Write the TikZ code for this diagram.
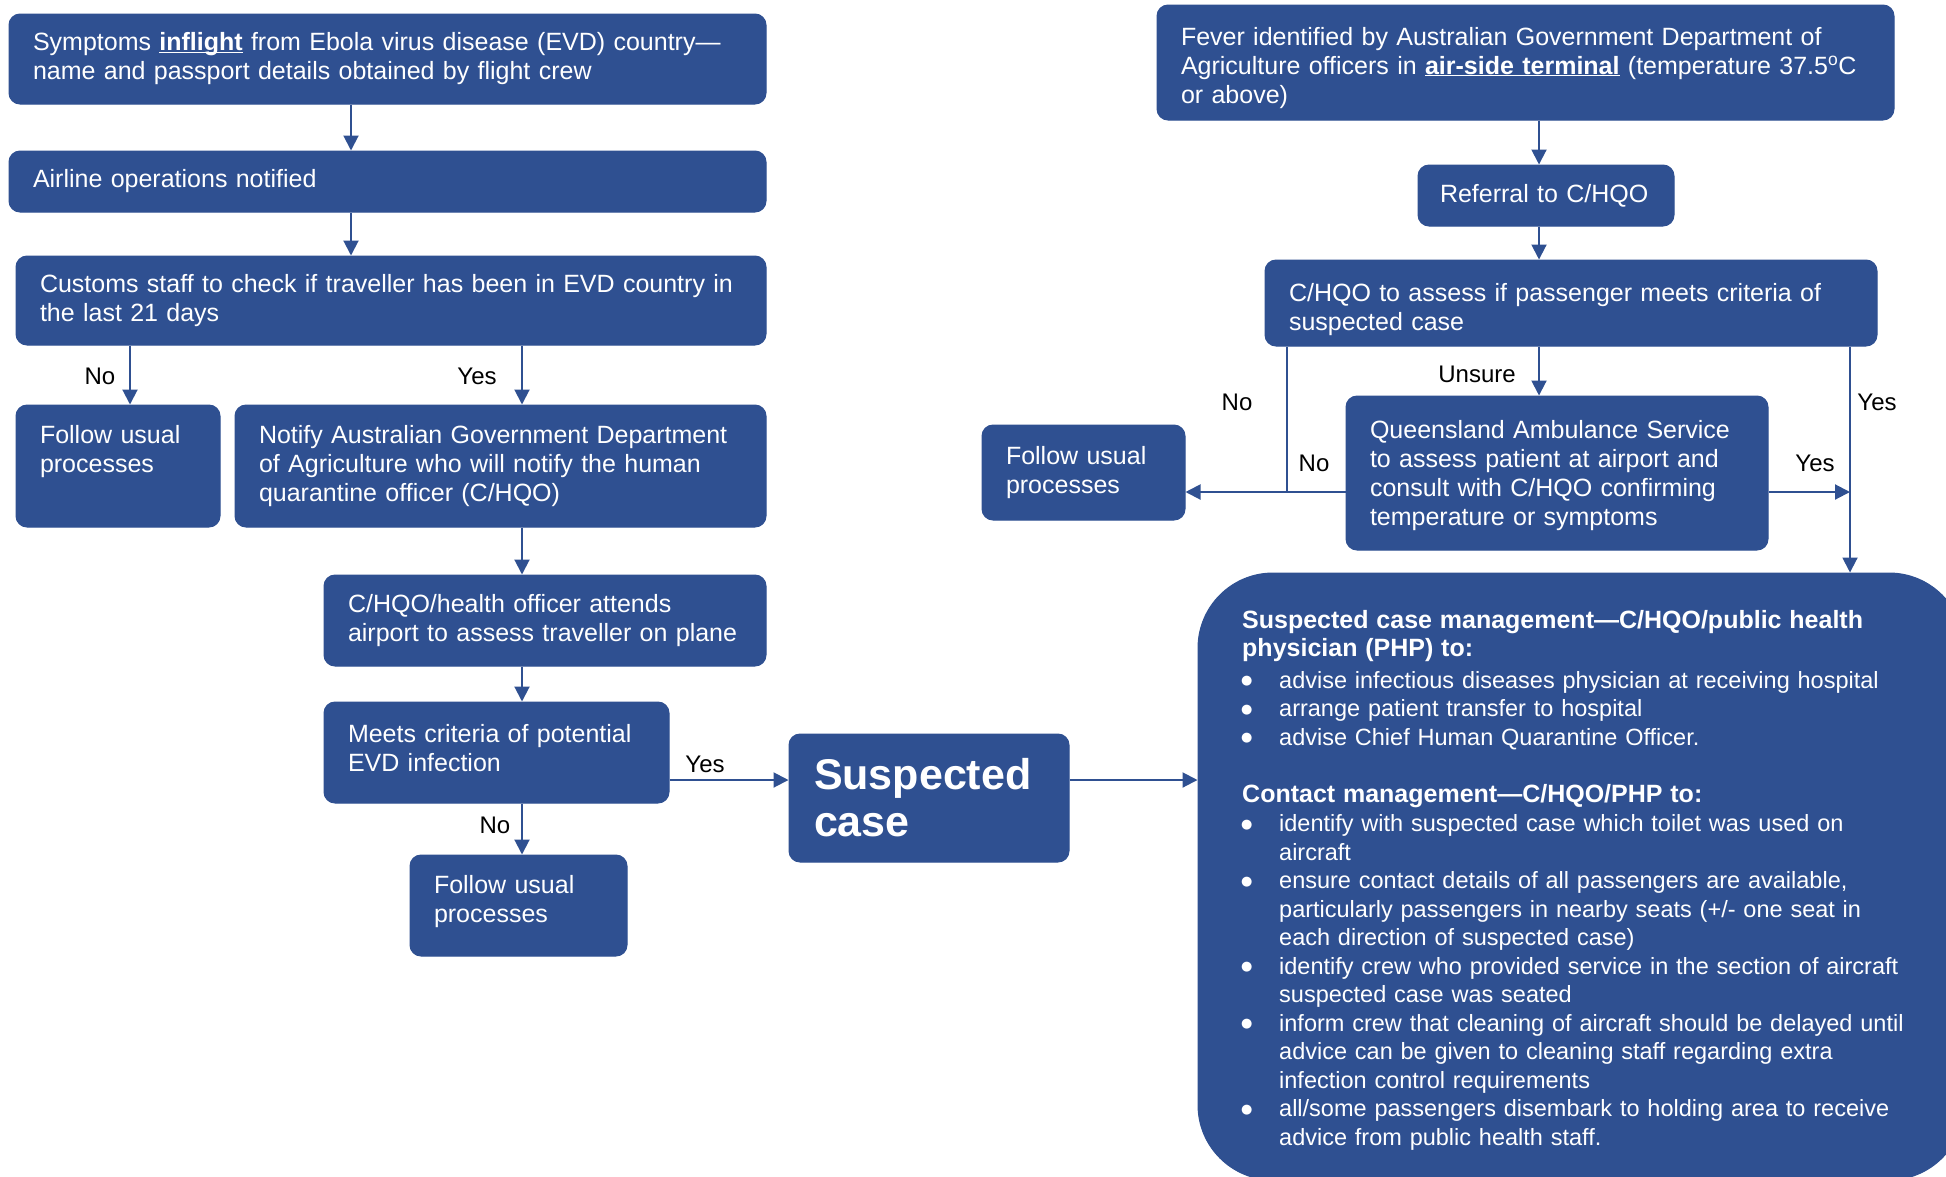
\documentclass[tikz,border=0pt]{standalone}
\usepackage{fontspec}
\setmainfont{Liberation Sans}
\newfontfamily\dejavu{DejaVu Sans}
\usetikzlibrary{arrows.meta}
\definecolor{evdblue}{HTML}{2F5091}
\newcommand\bul[1]{\par\hangindent=37pt\hangafter=1\noindent\makebox[37pt][l]{\hspace{-1pt}\raisebox{3.5pt}{\dejavu\fontsize{13}{14}\selectfont ●}}#1}
\newcommand\ulb[1]{\underline{\smash{\textbf{#1}}}}
\begin{document}
\begin{tikzpicture}[x=1pt,y=-1pt,
  box/.style={draw=evdblue, fill=evdblue, line width=1pt, rounded corners=11pt, text=white,
    align=left, inner xsep=24pt, inner ysep=0pt, font=\fontsize{25}{29}\selectfont},
  arr/.style={draw=evdblue, line width=2pt, -{Triangle[length=15pt,width=15pt]}},
  ln/.style={draw=evdblue, line width=2pt},
  lab/.style={anchor=base, inner sep=0pt, text=black, font=\fontsize{24}{28.5}\selectfont}]
\useasboundingbox (0,0) rectangle (1946,1176);

% left column
\node[box, minimum width=757pt, minimum height=90pt, text width=709pt] (b1) at (387.5,59)
  {Symptoms \ulb{inflight} from Ebola virus disease (EVD) country—\\name and passport details obtained by flight crew};
\node[box, minimum width=757pt, minimum height=61pt, text width=709pt] (b2) at (387.5,181.5)
  {Airline operations notified};
\node[box, minimum width=750pt, minimum height=89pt, text width=702pt] (b3) at (391,300.5)
  {Customs staff to check if traveller has been in EVD country in\\the last 21 days};
\node[box, minimum width=204pt, minimum height=122pt, text width=156pt] (f1) at (118,466)
  {Follow usual\\processes\\\phantom{q}};
\node[box, minimum width=531pt, minimum height=122pt, text width=483pt] (nt) at (500.5,466)
  {Notify Australian Government Department\\of Agriculture who will notify the human\\quarantine officer (C/HQO)};
\node[box, minimum width=442pt, minimum height=91pt, text width=394pt] (ch) at (545,620.5)
  {C/HQO/health officer attends\\airport to assess traveller on plane};
\node[box, minimum width=345pt, minimum height=101pt, text width=297pt] (m) at (496.5,752.5)
  {Meets criteria of potential\\EVD infection\rule[-10pt]{0pt}{0pt}};
\node[box, minimum width=217pt, minimum height=101pt, text width=169pt] (f2) at (518.5,905.5)
  {Follow usual\\processes\rule[-13pt]{0pt}{0pt}};
\node[box, minimum width=280pt, minimum height=128pt, text width=230pt, inner xsep=25pt,
  font=\fontsize{43}{47}\selectfont\bfseries] (sc) at (929,798)
  {Suspected\\case};

% right column
\node[box, minimum width=737pt, minimum height=115pt, text width=689pt] (fv) at (1525.5,62.5)
  {\rule{0pt}{28.5pt}Fever identified by Australian Government Department of\\Agriculture officers in \ulb{air-side terminal} (temperature 37.5\textsuperscript{o}C\\or above)};
\node[box, minimum width=256pt, minimum height=61pt, text width=218pt, inner xsep=19pt] (rf) at (1546,195.5)
  {\hspace{3pt}Referral to C/HQO};
\node[box, minimum width=612pt, minimum height=86pt, text width=564pt] (as) at (1571,303)
  {\rule{0pt}{30.5pt}C/HQO to assess if passenger meets criteria of\\suspected case};
\node[box, minimum width=422pt, minimum height=154pt, text width=374pt] (q) at (1557,473)
  {\rule{0pt}{23.5pt}Queensland Ambulance Service\\to assess patient at airport and\\consult with C/HQO confirming\\temperature or symptoms};
\node[box, minimum width=203pt, minimum height=95pt, text width=155pt] (f3) at (1083.5,472.5)
  {Follow usual\\processes};
\node[box, rounded corners=75pt, minimum width=766pt, minimum height=607pt] (big) at (1581,876.5) {};
\node[anchor=base west, inner sep=0pt, text width=700pt, align=left, text=white,
  font=\fontsize{23.5}{28.5}\selectfont] (bigtxt) at (1242,628)
  {\noindent{\fontsize{25}{28.5}\selectfont\bfseries Suspected case management—C/HQO/public health\newline physician (PHP) to:}
   \par\vspace{3pt}
   \bul{advise infectious diseases physician at receiving hospital}
   \bul{arrange patient transfer to hospital}
   \bul{advise Chief Human Quarantine Officer.}
   \par\vspace{28.5pt}
   \noindent{\fontsize{25}{28.5}\selectfont\bfseries Contact management—C/HQO/PHP to:}
   \par\vspace{1pt}
   \bul{identify with suspected case which toilet was used on\newline aircraft}
   \bul{ensure contact details of all passengers are available,\newline particularly passengers in nearby seats (+/- one seat in\newline each direction of suspected case)}
   \bul{identify crew who provided service in the section of aircraft\newline suspected case was seated}
   \bul{inform crew that cleaning of aircraft should be delayed until\newline advice can be given to cleaning staff regarding extra\newline infection control requirements}
   \bul{all/some passengers disembark to holding area to receive\newline advice from public health staff.}\par};

% junction coordinates
\coordinate (xa) at (351,0);
\coordinate (xno) at (130,0);
\coordinate (xyes) at (522,0);
\coordinate (ysc) at (0,780);
\coordinate (xr) at (1539,0);
\coordinate (noj) at (1287,492);
\coordinate (yesj) at (1850,492);

% left connectors
\draw[arr] (xa |- b1.south) -- (xa |- b2.north);
\draw[arr] (xa |- b2.south) -- (xa |- b3.north);
\draw[arr] (xno |- b3.south) -- (xno |- f1.north);
\draw[arr] (xyes |- b3.south) -- (xyes |- nt.north);
\draw[arr] (xyes |- nt.south) -- (xyes |- ch.north);
\draw[arr] (xyes |- ch.south) -- (xyes |- m.north);
\draw[arr] (xyes |- m.south) -- (xyes |- f2.north);
\draw[arr] (m.east |- ysc) -- (sc.west |- ysc);
\draw[arr] (sc.east |- ysc) -- (big.west |- ysc);

% right connectors
\draw[arr] (xr |- fv.south) -- (xr |- rf.north);
\draw[arr] (xr |- rf.south) -- (xr |- as.north);
\draw[arr] (xr |- as.south) -- (xr |- q.north);
\draw[ln] (noj |- as.south) -- (noj);
\draw[arr] (q.west |- noj) -- (f3.east |- noj);
\draw[arr] (yesj |- as.south) -- (yesj |- big.north);
\draw[arr] (q.east |- yesj) -- (yesj);

% labels
\node[lab] (lno1) at (100,384.6) {No};
\node[lab] (lyes1) at (477,384.6) {Yes};
\node[lab] (lyes2) at (705,772.6) {Yes};
\node[lab] (lno2) at (495,833.6) {No};
\node[lab] (lunsure) at (1477,382.6) {Unsure};
\node[lab] (lno3) at (1237,410.6) {No};
\node[lab] (lno4) at (1314,471.6) {No};
\node[lab] (lyes3) at (1877,410.6) {Yes};
\node[lab] (lyes4) at (1815,471.6) {Yes};
\end{tikzpicture}
\end{document}
